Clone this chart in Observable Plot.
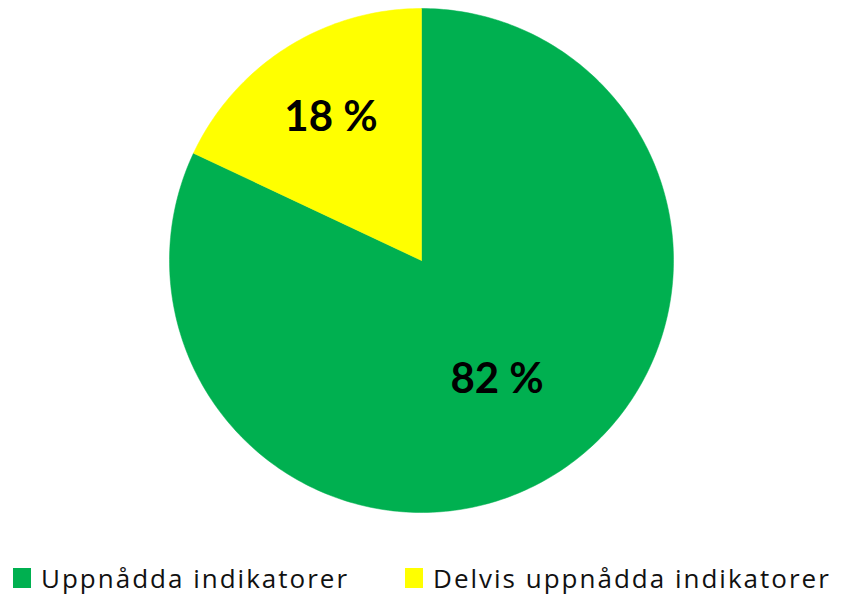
<!DOCTYPE html>
<html><head><meta charset="utf-8">
<script src="https://cdn.jsdelivr.net/npm/d3@7"></script>
<script src="https://cdn.jsdelivr.net/npm/@observablehq/plot@0.6"></script>
<style>
body{margin:0;background:#fff;font-family:"Open Sans",Lato,sans-serif;position:relative;width:845px;height:598px;overflow:hidden;}
#legend{position:absolute;left:0;top:562px;display:flex;font-size:26px;line-height:32px;color:#111;letter-spacing:2px;}
.item{display:flex;align-items:center;}
.sw{width:18px;height:20px;margin-right:10px;}
</style></head><body>
<div id="chart"></div>
<div id="legend"></div>
<script>
const categories = ["Uppnådda indikatorer", "Delvis uppnådda indikatorer"];
const values = [82, 18];
const labels = ["82 %", "18 %"];
const colors = ["#00B050", "#FFFF00"];

const total = d3.sum(values);
const slices = [];
const labelPts = [];
let start = 0;
values.forEach((v, i) => {
  const a0 = start, a1 = start + v / total * 2 * Math.PI;
  start = a1;
  const n = Math.max(2, Math.ceil((a1 - a0) / (Math.PI / 180)));
  slices.push({cat: categories[i], x: 0, y: 0});
  for (let k = 0; k <= n; k++) {
    const a = a0 + (a1 - a0) * k / n;
    slices.push({cat: categories[i], x: Math.sin(a), y: Math.cos(a)});
  }
  slices.push({cat: categories[i], x: 0, y: 0});
  const m = (a0 + a1) / 2, r = i === 0 ? 0.56 : 0.67;
  labelPts.push({label: labels[i], x: r * Math.sin(m), y: r * Math.cos(m)});
});

const W = 845, H = 545, R = 252, cx = 421, cy = 260;
const chart = Plot.plot({
  width: W, height: H,
  margin: 0,
  x: {domain: [-cx / R, (W - cx) / R], axis: null},
  y: {domain: [-(H - cy) / R, cy / R], axis: null},
  color: {domain: categories, range: colors},
  marks: [
    Plot.line(slices, {x: "x", y: "y", z: "cat", fill: "cat", stroke: "cat", strokeWidth: 0.5, curve: "linear"}),
    Plot.text(labelPts, {x: "x", y: "y", text: "label", fontSize: 42, fontWeight: "bold", fill: "#000", fontFamily: "Lato, sans-serif"})
  ]
});
document.getElementById("chart").appendChild(chart);

const lg = document.getElementById("legend");
categories.forEach((c, i) => {
  const it = document.createElement("div");
  it.className = "item";
  it.style.marginLeft = i === 0 ? "13px" : "56px";
  const sw = document.createElement("span");
  sw.className = "sw"; sw.style.background = colors[i];
  const t = document.createElement("span");
  t.textContent = c;
  it.appendChild(sw); it.appendChild(t);
  lg.appendChild(it);
});
</script>
</body></html>
